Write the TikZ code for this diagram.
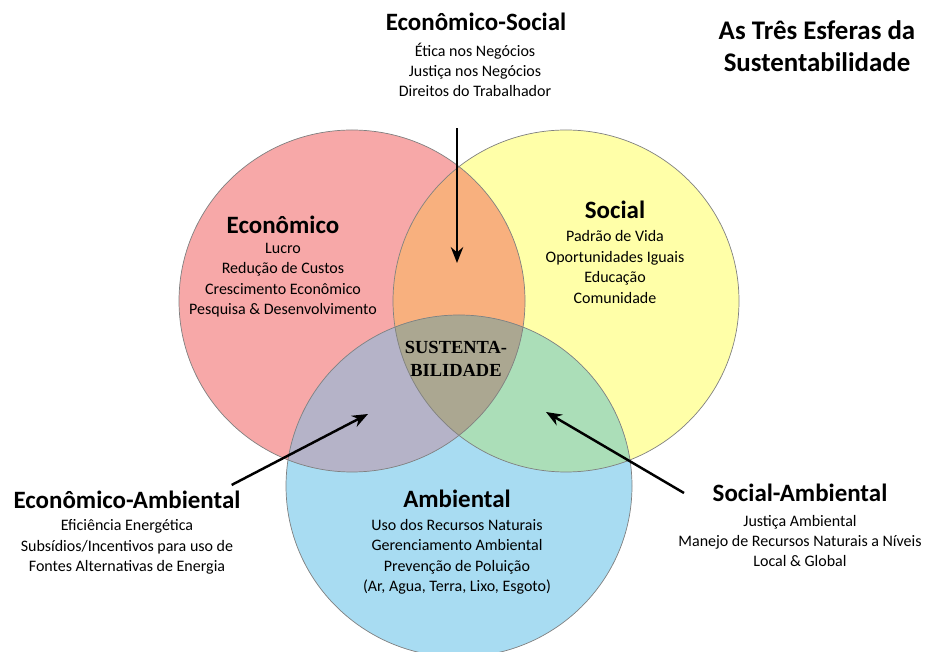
\documentclass[tikz,border=0pt]{standalone}
\usepackage{fontspec}
\setmainfont{Carlito}
\newfontfamily\serifa{Liberation Serif}
\usepackage{xcolor}
\usetikzlibrary{arrows.meta}
\definecolor{vermelho}{RGB}{247,168,168}
\definecolor{amarelo}{RGB}{255,255,168}
\definecolor{azul}{RGB}{168,220,242}
\definecolor{laranja}{RGB}{248,176,126}
\definecolor{roxo}{RGB}{181,179,200}
\definecolor{verde}{RGB}{171,222,184}
\definecolor{centro}{RGB}{171,167,145}

\begin{document}
\begin{tikzpicture}[
        titulo/.style={font=\fontsize{14.2}{17}\selectfont\bfseries},
        lista/.style={align=center,font=\fontsize{9.1}{11.6}\selectfont},
        seta/.style={-{Stealth[length=9pt,width=7pt]},line width=1.4pt},
        contorno/.style={draw=black!50,line width=0.4pt}]
        \useasboundingbox (0,0) rectangle (18.6,13.02);
        \fill[vermelho] (7.04,7.00) ellipse (3.46 and 3.42);
        \fill[amarelo] (11.32,7.00) ellipse (3.46 and 3.42);
        \fill[azul] (9.18,3.30) ellipse (3.46 and 3.42);
        \begin{scope}
            \clip (7.04,7.00) ellipse (3.46 and 3.42);
            \fill[laranja] (11.32,7.00) ellipse (3.46 and 3.42);
            \fill[roxo] (9.18,3.30) ellipse (3.46 and 3.42);
        \end{scope}
        \begin{scope}
            \clip (11.32,7.00) ellipse (3.46 and 3.42);
            \fill[verde] (9.18,3.30) ellipse (3.46 and 3.42);
        \end{scope}
        \begin{scope}
            \clip (7.04,7.00) ellipse (3.46 and 3.42);
            \clip (11.32,7.00) ellipse (3.46 and 3.42);
            \fill[centro] (9.18,3.30) ellipse (3.46 and 3.42);
        \end{scope}
        \draw[contorno] (7.04,7.00) ellipse (3.46 and 3.42);
        \draw[contorno] (11.32,7.00) ellipse (3.46 and 3.42);
        \draw[contorno] (9.18,3.30) ellipse (3.46 and 3.42);
        \node[align=center,font=\fontsize{15.3}{18.1}\selectfont\bfseries] (geral) at (16.34,12.10) {As Três Esferas da\\Sustentabilidade};
        \node[titulo] (es) at (9.52,12.58) {Econômico-Social};
        \node[lista] (esl) at (9.50,11.62) {Ética nos Negócios\\Justiça nos Negócios\\Direitos do Trabalhador};
        \node[titulo] (econ) at (5.66,8.52) {Econômico};
        \node[lista] (econl) at (5.66,7.42) {Lucro\\Redução de Custos\\Crescimento Econômico\\Pesquisa \& Desenvolvimento};
        \node[titulo] (soc) at (12.30,8.82) {Social};
        \node[lista] (socl) at (12.30,7.68) {Padrão de Vida\\Oportunidades Iguais\\Educação\\Comunidade};
        \node[align=center,font=\fontsize{10.5}{13}\selectfont\serifa\bfseries] (sust) at (9.12,5.84) {SUSTENTA-\\BILIDADE};
        \node[titulo] (amb) at (9.14,3.04) {Ambiental};
        \node[lista] (ambl) at (9.14,1.88) {Uso dos Recursos Naturais\\Gerenciamento Ambiental\\Prevenção de Poluição\\(Ar, Agua, Terra, Lixo, Esgoto)};
        \node[titulo] (ea) at (2.54,3.02) {Econômico-Ambiental};
        \node[lista] (eal) at (2.54,2.08) {Eficiência Energética\\Subsídios/Incentivos para uso de\\Fontes Alternativas de Energia};
        \node[titulo] (sa) at (16.00,3.16) {Social-Ambiental};
        \node[lista] (sal) at (16.00,2.20) {Justiça Ambiental\\Manejo de Recursos Naturais a Níveis\\Local \& Global};
        \coordinate (esFim) at (9.14,7.76);
        \coordinate (eaFim) at (7.36,4.74);
        \coordinate (saFim) at (10.92,4.78);
        \draw[seta,shorten <=0.5cm] (esl.south -| esFim) -- (esFim);
        \draw[seta] ([xshift=-0.3cm]ea.north east) -- (eaFim);
        \draw[seta] ([xshift=-0.45cm]sa.west) -- (saFim);
    \end{tikzpicture}
\end{document}
